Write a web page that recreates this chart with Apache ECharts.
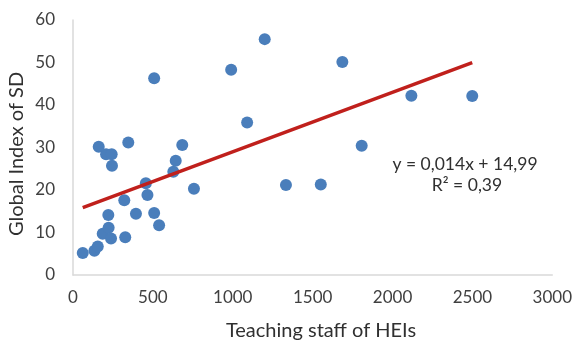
<!DOCTYPE html>
<html>
<head>
<meta charset="utf-8">
<script src="https://cdn.jsdelivr.net/npm/echarts@6/dist/echarts.min.js"></script>
<style>
    html, body { margin: 0; padding: 0; background: #fff; }
    #chart { width: 575px; height: 342px; }
</style>
</head>
<body>
<div id="chart"></div>
<script>
// teaching staff (x) and global index of SD (y)
const staff = [61, 134, 155, 186, 223, 238, 327, 221, 394, 508, 539, 321, 466, 456, 757, 628, 643, 684,
    244, 207, 242, 161, 346, 1090, 508, 990, 1200, 1686, 1807, 1333, 1551, 2118, 2499];
const sdIndex = [5.2, 5.7, 6.7, 9.7, 11.1, 8.6, 8.9, 14.1, 14.4, 14.6, 11.7, 17.6, 18.8, 21.6, 20.3, 24.3, 26.9, 30.6,
    25.7, 28.4, 28.4, 30.2, 31.2, 35.9, 46.3, 48.3, 55.5, 50.1, 30.4, 21.2, 21.3, 42.2, 42.1];

// linear trend from the chart's equation
const slope = 0.014;
const intercept = 14.99;
const trendX = [61, 2499];
const equationText = ["y = 0,014x + 14,99", "R² = 0,39"];

const xTicks = { min: 0, max: 3000, interval: 500 };
const yTicks = { min: 0, max: 60, interval: 10 };
const xTitle = "Teaching staff of HEIs";
const yTitle = "Global Index of SD";

const font = "Lato, 'Open Sans', sans-serif";

const chart = echarts.init(document.getElementById("chart"), null, { renderer: "canvas" });
chart.setOption({
    animation: false,
    grid: { left: 73, right: 20, top: 20, bottom: 67, containLabel: false },
    xAxis: {
        type: "value",
        min: xTicks.min,
        max: xTicks.max,
        interval: xTicks.interval,
        axisLine: { show: true, onZero: false, lineStyle: { color: "#d9d9d9", width: 1.5 } },
        axisTick: { show: false },
        splitLine: { show: false },
        axisLabel: {
            fontFamily: font, fontSize: 17, color: "#404040", margin: 14,
            formatter: (v) => String(v),
        },
    },
    yAxis: {
        type: "value",
        min: yTicks.min,
        max: yTicks.max,
        interval: yTicks.interval,
        axisLine: { show: true, lineStyle: { color: "#d9d9d9", width: 1.5 } },
        axisTick: { show: false },
        splitLine: { show: false },
        axisLabel: {
            fontFamily: font, fontSize: 17, color: "#404040", margin: 18,
            formatter: (v) => String(v),
        },
    },
    series: [
        {
            name: "points",
            type: "scatter",
            symbolSize: 12,
            itemStyle: { color: "#4a7ebb", opacity: 1 },
            data: staff.map((x, i) => [x, sdIndex[i]]),
            z: 2,
        },
        {
            name: "trend",
            type: "line",
            symbol: "none",
            lineStyle: { color: "#c0201c", width: 3.5 },
            data: trendX.map((x) => [x, slope * x + intercept]),
            z: 3,
        },
    ],
    graphic: [
        {
            type: "text",
            x: 321,
            y: 331,
            style: { text: xTitle, font: "20px " + font, fill: "#303030", align: "center", verticalAlign: "middle" },
        },
        {
            type: "text",
            x: 17,
            y: 154,
            rotation: Math.PI / 2,
            style: { text: yTitle, font: "20px " + font, fill: "#303030", align: "center", verticalAlign: "middle" },
        },
        {
            type: "text",
            x: 465,
            y: 164,
            style: { text: equationText[0], font: "17.5px " + font, fill: "#303030", align: "center", verticalAlign: "middle" },
        },
        {
            type: "text",
            x: 467,
            y: 185,
            style: { text: equationText[1], font: "17.5px " + font, fill: "#303030", align: "center", verticalAlign: "middle" },
        },
    ],
});
</script>
</body>
</html>
